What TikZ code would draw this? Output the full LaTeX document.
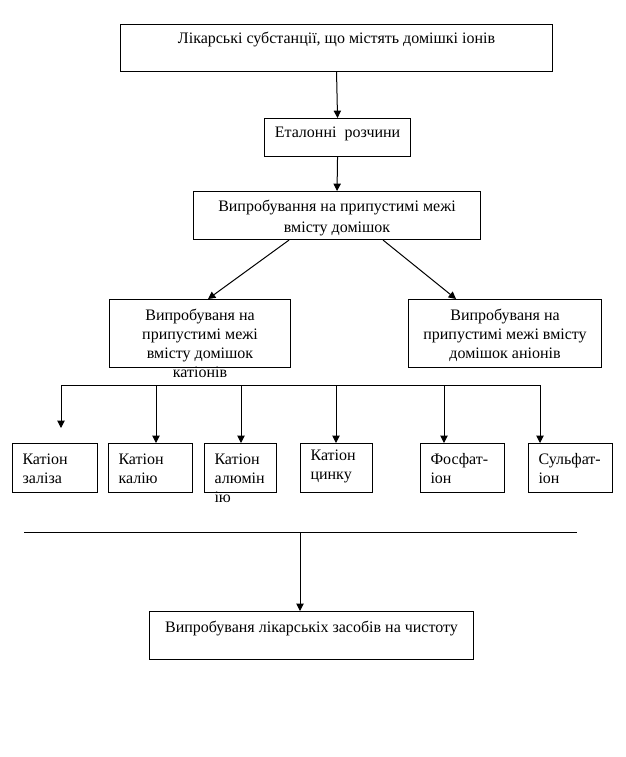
\documentclass[tikz,border=0pt]{standalone}
\usepackage{fontspec}
\setmainfont{Liberation Serif}
\usetikzlibrary{arrows.meta,calc}
\newlength\pxu
\setlength\pxu{0.75pt}
% width, height, first baseline, alignment, text
\newcommand\boxtext[5]{\parbox[c][#2\pxu][t]{#1\pxu}{#4\rule{0pt}{#3\pxu}#5\par}}
\newcommand\cen{\centering}
\newcommand\lft{\raggedright\leftskip=10\pxu\relax}
\begin{document}
\begin{tikzpicture}[x=0.75pt,y=-0.75pt,
  box/.style={draw,line width=0.8pt,inner sep=0pt,anchor=north west,
    font=\fontsize{12pt}{14.25pt}\selectfont},
  arr/.style={line width=0.75pt,-{Triangle[width=5.5pt,length=5.5pt]}},
  plain/.style={line width=0.75pt}]
\fill[white] (0,0) rectangle (625,757);
\useasboundingbox (0,0) rectangle (625,757);

\node[box] (b1) at (120,24) {\boxtext{432}{47}{19}{\cen}{Лікарські субстанції, що містять домішкі іонів}};
\node[box] (b2) at (264,118) {\boxtext{146}{38}{19}{\cen}{Еталонні~ розчини}};
\node[box] (b3) at (193,191) {\boxtext{287}{48}{20}{\cen\setlength\baselineskip{21\pxu}}{Випробування на припустимі межі\\ вмісту домішок}};
\node[box] (b4) at (109,299) {\boxtext{181}{68}{21}{\cen}{Випробуваня на\\ припустимі межі\\ вмісту домішок\\ катіонів}};
\node[box] (b5) at (408,299) {\boxtext{193}{68}{21}{\cen}{Випробуваня на\\ припустимі межі вмісту\\ домішок аніонів}};

\node[box] (bA) at (12,443) {\boxtext{85}{49}{21}{\lft}{Катіон\\ заліза}};
\node[box] (bB) at (108,443) {\boxtext{84}{49}{21}{\lft}{Катіон\\ калію}};
\node[box] (bC) at (204,443) {\boxtext{72}{49}{21}{\lft}{Катіон\\ алюмін\\ ію}};
\node[box] (bD) at (300,443) {\boxtext{72}{49}{17}{\lft}{Катіон\\ цинку}};
\node[box] (bE) at (420,443) {\boxtext{84}{49}{21}{\lft}{Фосфат-\\ іон}};
\node[box] (bF) at (528,443) {\boxtext{84}{49}{21}{\lft}{Сульфат-\\ іон}};

\node[box] (bG) at (149,611) {\boxtext{324}{48}{21}{\cen}{Випробуваня лікарськіх засобів на чистоту}};

\draw[arr] (b1.south) -- (b2.north);
\draw[arr] (b2.south) -- (b3.north);
\draw[arr] ([xshift=-48\pxu]b3.south) -- ([xshift=8\pxu]b4.north);
\draw[arr] ([xshift=46\pxu]b3.south) -- ([xshift=-49\pxu]b5.north);

\coordinate (h1) at (61,385);
\coordinate (h2) at (540,385);
\coordinate (tB) at (156,385);
\coordinate (tC) at (241,385);
\coordinate (tD) at (336,385);
\coordinate (tE) at (444,385);
\coordinate (eA) at (61,428);
\draw[plain] (h1) -- (h2);
\draw[arr] (h1) -- (eA);
\draw[arr] (tB) -- (tB |- bB.north);
\draw[arr] (tC) -- (tC |- bC.north);
\draw[arr] (tD) -- (tD |- bD.north);
\draw[arr] (tE) -- (tE |- bE.north);
\draw[arr] (h2) -- (h2 |- bF.north);

\coordinate (l1) at (24,532);
\coordinate (l2) at (577,532);
\coordinate (tG) at (300,532);
\draw[plain] (l1) -- (l2);
\draw[arr] (tG) -- (tG |- bG.north);
\end{tikzpicture}
\end{document}
